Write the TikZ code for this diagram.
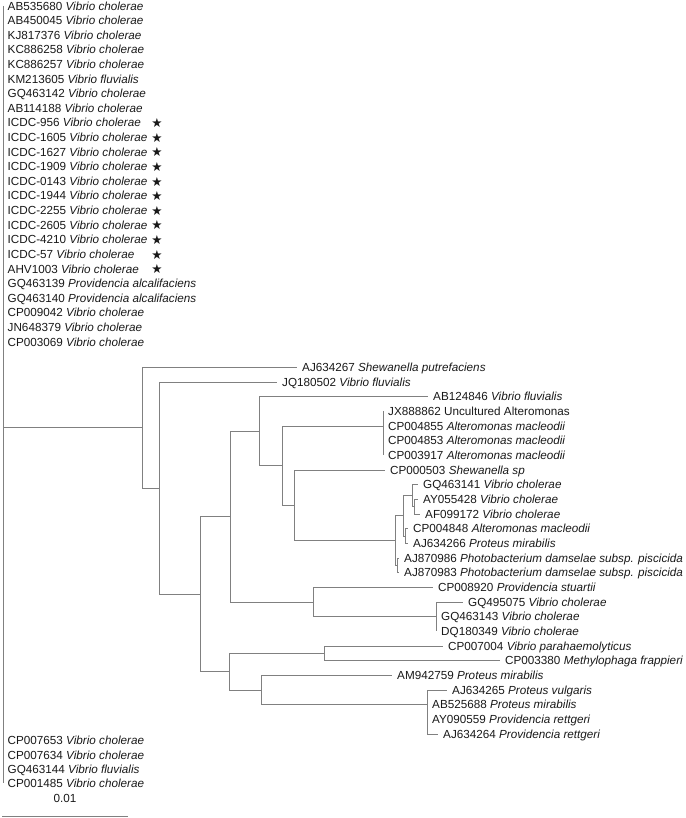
\documentclass[tikz,border=0pt]{standalone}
\usepackage{fontspec}
\setmainfont{Liberation Sans}
\newfontfamily\starfont{DejaVu Sans}
\definecolor{brc}{RGB}{128,128,128}
\definecolor{txt}{RGB}{25,25,25}
\newcommand\mkleaf[5]{%
  \coordinate (#1) at (#3,#4);
  \draw[br] (#2) |- (#1);
  \node[lab] (#1L) at ([xshift=5pt]#1) {#5};}
\begin{document}
\begin{tikzpicture}[x=1pt,y=-1pt,
  br/.style={draw=brc, line width=0.9pt},
  lab/.style={anchor=west, inner sep=0pt, text height=8.4pt, text depth=0pt, text=txt,
              font=\fontsize{11.7}{14}\selectfont},
  stm/.style={inner sep=0pt, text=txt, font=\starfont\fontsize{12.5}{12}\selectfont}]
\useasboundingbox (0,0) rectangle (685,818);

% ---- top list (zero-length leaves on the root) ----
\foreach \i/\acc/\sp in {0/AB535680/Vibrio cholerae, 1/AB450045/Vibrio cholerae,
  2/KJ817376/Vibrio cholerae, 3/KC886258/Vibrio cholerae, 4/KC886257/Vibrio cholerae,
  5/KM213605/Vibrio fluvialis, 6/GQ463142/Vibrio cholerae, 7/AB114188/Vibrio cholerae,
  8/ICDC-956/Vibrio cholerae, 9/ICDC-1605/Vibrio cholerae, 10/ICDC-1627/Vibrio cholerae,
  11/ICDC-1909/Vibrio cholerae, 12/ICDC-0143/Vibrio cholerae, 13/ICDC-1944/Vibrio cholerae,
  14/ICDC-2255/Vibrio cholerae, 15/ICDC-2605/Vibrio cholerae, 16/ICDC-4210/Vibrio cholerae,
  17/ICDC-57/Vibrio cholerae, 18/AHV1003/Vibrio cholerae,
  19/GQ463139/Providencia alcalifaciens, 20/GQ463140/Providencia alcalifaciens,
  21/CP009042/Vibrio cholerae, 22/JN648379/Vibrio cholerae, 23/CP003069/Vibrio cholerae}{
  \coordinate (tt\i) at (3,{6+14.6*\i});
  \node[lab] (tl\i) at ([xshift=4.5pt]tt\i) {\acc\ \textit{\sp}};
}
\foreach \i in {8,...,18}{
  \node[stm] (st\i) at (157,{6.5+14.6*\i}) {★};
}

% ---- bottom list ----
\foreach \j/\acc/\sp in {0/CP007653/Vibrio cholerae, 1/CP007634/Vibrio cholerae,
  2/GQ463144/Vibrio fluvialis, 3/CP001485/Vibrio cholerae}{
  \coordinate (bt\j) at (3,{740.7+14.2*\j});
  \node[lab] (bl\j) at ([xshift=4.5pt]bt\j) {\acc\ \textit{\sp}};
}

% ---- root ----
\coordinate (root) at (3,427.7);
\draw[br] (tt0) -- (bt3);

% ---- internal nodes ----
\coordinate (A) at (142,427.7);
\coordinate (B) at (159,488.1);
\coordinate (C) at (200,594.2);
\coordinate (D) at (230,516.6);
\coordinate (E) at (259,431.2);
\coordinate (E2) at (282,465.7);
\coordinate (P) at (383,426.0);
\coordinate (E3) at (294,505.3);
\coordinate (E4) at (395,540.6);
\coordinate (E5) at (403,515.8);
\coordinate (E6) at (412,495.7);
\coordinate (AYAF) at (414,506.7);
\coordinate (E7) at (405,536.0);
\coordinate (E8) at (397,565.3);
\coordinate (F) at (313,602.0);
\coordinate (F2) at (436,616.7);
\coordinate (H) at (229,671.7);
\coordinate (H1) at (324,653.4);
\coordinate (H2) at (261,690.0);
\coordinate (H3) at (427,704.7);

\draw[br] (root) -- (A);
\draw[br] (A) |- (B);
\draw[br] (B) |- (C);
\draw[br] (C) |- (D);
\draw[br] (D) |- (E);
\draw[br] (E) |- (E2);
\draw[br] (E2) |- (P);
\draw[br] (E2) |- (E3);
\draw[br] (E3) |- (E4);
\draw[br] (E4) |- (E5);
\draw[br] (E5) |- (E6);
\draw[br] (E6) |- (AYAF);
\draw[br] (E5) |- (E7);
\draw[br] (E4) |- (E8);
\draw[br] (D) |- (F);
\draw[br] (F) |- (F2);
\draw[br] (C) |- (H);
\draw[br] (H) |- (H1);
\draw[br] (H) |- (H2);
\draw[br] (H2) |- (H3);

% ---- leaves ----
\mkleaf{k0}{A}{297}{367.3}{AJ634267 \textit{Shewanella putrefaciens}}
\mkleaf{k1}{B}{277}{382.0}{JQ180502 \textit{Vibrio fluvialis}}
\mkleaf{k2}{E}{428}{396.6}{AB124846 \textit{Vibrio fluvialis}}
\mkleaf{k3}{P}{383}{411.3}{JX888862 Uncultured Alteromonas}
\mkleaf{k4}{P}{383}{426.0}{CP004855 \textit{Alteromonas macleodii}}
\mkleaf{k5}{P}{383}{440.7}{CP004853 \textit{Alteromonas macleodii}}
\mkleaf{k6}{P}{383}{455.3}{CP003917 \textit{Alteromonas macleodii}}
\mkleaf{k7}{E3}{385}{470.0}{CP000503 \textit{Shewanella sp}}
\mkleaf{k8}{E6}{418}{484.7}{GQ463141 \textit{Vibrio cholerae}}
\mkleaf{k9}{AYAF}{418}{499.3}{AY055428 \textit{Vibrio cholerae}}
\mkleaf{k10}{AYAF}{420}{514.0}{AF099172 \textit{Vibrio cholerae}}
\mkleaf{k11}{E7}{408}{528.7}{CP004848 \textit{Alteromonas macleodii}}
\mkleaf{k12}{E7}{408}{543.3}{AJ634266 \textit{Proteus mirabilis}}
\mkleaf{k13}{E8}{399}{558.0}{AJ870986 \textit{Photobacterium damselae subsp. piscicida}}
\mkleaf{k14}{E8}{399}{572.7}{AJ870983 \textit{Photobacterium damselae subsp. piscicida}}
\mkleaf{k15}{F}{433}{587.4}{CP008920 \textit{Providencia stuartii}}
\mkleaf{k16}{F2}{463}{602.0}{GQ495075 \textit{Vibrio cholerae}}
\mkleaf{k17}{F2}{436}{616.7}{GQ463143 \textit{Vibrio cholerae}}
\mkleaf{k18}{F2}{436}{631.4}{DQ180349 \textit{Vibrio cholerae}}
\mkleaf{k19}{H1}{443}{646.0}{CP007004 \textit{Vibrio parahaemolyticus}}
\mkleaf{k20}{H1}{500}{660.7}{CP003380 \textit{Methylophaga frappieri}}
\mkleaf{k21}{H2}{392}{675.4}{AM942759 \textit{Proteus mirabilis}}
\mkleaf{k22}{H3}{447}{690.0}{AJ634265 \textit{Proteus vulgaris}}
\mkleaf{k23}{H3}{427}{704.7}{AB525688 \textit{Proteus mirabilis}}
\mkleaf{k24}{H3}{427}{719.4}{AY090559 \textit{Providencia rettgeri}}
\mkleaf{k25}{H3}{438}{734.1}{AJ634264 \textit{Providencia rettgeri}}

% ---- scale bar ----
\coordinate (sb1) at (2,816);
\coordinate (sb2) at (128,816);
\draw[br] (sb1) -- (sb2);
\node[lab, anchor=center] (sbl) at (65,798.5) {0.01};
\end{tikzpicture}
\end{document}
